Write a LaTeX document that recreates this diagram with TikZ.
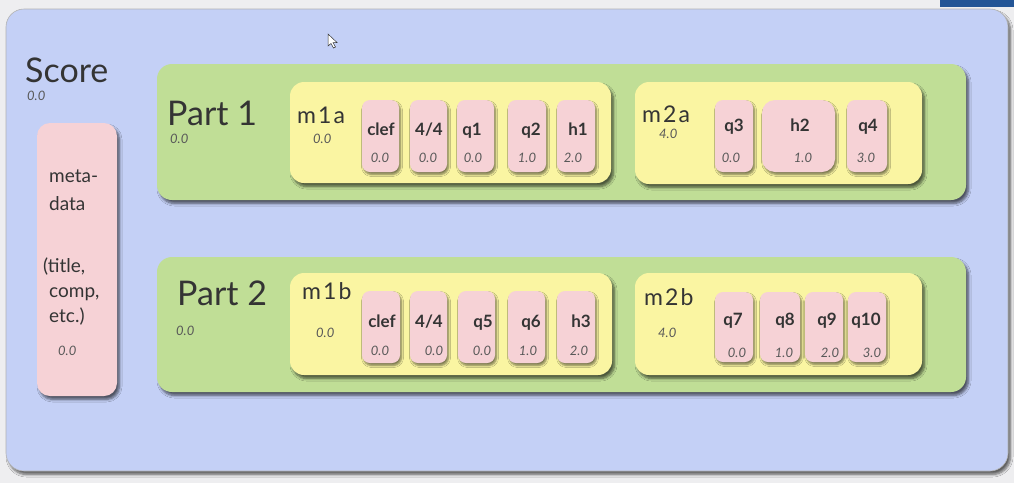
\documentclass[tikz,border=0pt]{standalone}
\usepackage{fontspec}
\setmainfont{Lato}
\newfontfamily\spacedlato[LetterSpace=9]{Lato}
\usetikzlibrary{fit,shadows.blur}
\definecolor{pagebg}{RGB}{238,238,240}
\definecolor{bluebg}{RGB}{196,208,246}
\definecolor{greenbg}{RGB}{192,222,150}
\definecolor{yellowbg}{RGB}{250,245,162}
\definecolor{pinkbg}{RGB}{246,210,214}
\definecolor{txt}{RGB}{52,52,52}
\definecolor{valtxt}{RGB}{88,88,88}
\definecolor{patch}{RGB}{35,85,150}
\tikzset{
  bigshad/.style={blur shadow={shadow xshift=2.5pt, shadow yshift=-3.5pt, shadow blur steps=6, shadow blur radius=2.5pt, shadow opacity=60}},
  smallshad/.style={blur shadow={shadow xshift=1.5pt, shadow yshift=-2.5pt, shadow blur steps=5, shadow blur radius=2pt, shadow opacity=50}},
  scorebox/.style={fill=bluebg, draw=black!30, line width=0.6pt, rounded corners=18pt, inner sep=0pt, bigshad},
  partbox/.style={fill=greenbg, rounded corners=15pt, inner sep=0pt, bigshad},
  measbox/.style={fill=yellowbg, rounded corners=14pt, inner sep=0pt, bigshad},
  evbox/.style={fill=pinkbg, rounded corners=8pt, inner sep=0pt, smallshad},
  metabox/.style={fill=pinkbg, rounded corners=13pt, inner sep=0pt, bigshad},
  bigtitle/.style={font=\fontsize{34}{34}\selectfont, text=txt, anchor=base west, inner sep=0pt},
  mtitle/.style={font=\spacedlato\fontsize{23}{23}\selectfont, text=txt, anchor=base west, inner sep=0pt},
  evname/.style={font=\fontsize{17}{17}\selectfont\bfseries, text=txt, anchor=base, inner sep=0pt},
  metatxt/.style={font=\fontsize{19}{19}\selectfont, text=txt, anchor=base west, inner sep=0pt},
  val/.style={font=\fontsize{13}{13}\selectfont\itshape, text=valtxt, anchor=base west, inner sep=0pt},
  cval/.style={font=\fontsize{13}{13}\selectfont\itshape, text=valtxt, anchor=base, inner sep=0pt},
}
\begin{document}
\begin{tikzpicture}[x=1pt,y=-1pt]
\useasboundingbox (0,0) rectangle (1014,483);
\fill[pagebg] (0,0) rectangle (1014,483);
\fill[patch] (940,0) rectangle (1014,7);
% Score
\node[scorebox, fit={(6,9) (1008,471)}] (score) {};
\node[bigtitle] (scoret) at (25,82) {Score};
\node[val] (scorev) at (27,100) {0.0};
% cursor
\filldraw[fill=white, draw=black!80, line width=0.5pt] (328,34) -- (328,46) -- (331,43.5) -- (333.5,48) -- (335.5,47) -- (333,42.5) -- (337,42.5) -- cycle;
% metadata
\node[metabox, fit={(37,123) (117,396)}] (meta) {};
\node[metatxt] (mt1) at (49,182) {meta-};
\node[metatxt] (mt2) at (49,210) {data};
\node[metatxt] (mt3) at (43,272) {(title,};
\node[metatxt] (mt4) at (49,297) {comp,};
\node[metatxt] (mt5) at (49,322) {etc.)};
\node[val] (mtv) at (58,355) {0.0};
% Part 1
\node[partbox, fit={(157,64) (966,200)}] (part1) {};
\node[bigtitle] (p1t) at (167,125) {Part 1};
\node[val] (p1v) at (170,143) {0.0};
% m1a
\node[measbox, fit={(290,82) (611,183)}] (m1a) {};
\node[mtitle] (m1at) at (297,123) {m1a};
\node[val] (m1av) at (313,143) {0.0};
\node[evbox, fit={(362,100) (399,172)}] (e1) {};
\node[evbox, fit={(410,100) (447,172)}] (e2) {};
\node[evbox, fit={(457,100) (494,172)}] (e3) {};
\node[evbox, fit={(508,100) (546,172)}] (e4) {};
\node[evbox, fit={(557,100) (595,172)}] (e5) {};
\node[evname] (e1n) at (381,135) {clef};
\node[evname] (e2n) at (429,135) {4/4};
\node[evname] (e3n) at (472,135) {q1};
\node[evname] (e4n) at (531,135) {q2};
\node[evname] (e5n) at (578,135) {h1};
\node[cval] (e1v) at (380,162) {0.0};
\node[cval] (e2v) at (428,162) {0.0};
\node[cval] (e3v) at (473,162) {0.0};
\node[cval] (e4v) at (527,162) {1.0};
\node[cval] (e5v) at (573,162) {2.0};
% m2a
\node[measbox, fit={(635,82) (922,184)}] (m2a) {};
\node[mtitle] (m2at) at (642,122) {m2a};
\node[val] (m2av) at (659,138) {4.0};
\node[evbox, fit={(715,100) (753,172)}] (e6) {};
\node[evbox, fit={(762,100) (835,172)}, rounded corners=13pt] (e7) {};
\node[evbox, fit={(847,100) (887,172)}] (e8) {};
\node[evname] (e6n) at (734,131) {q3};
\node[evname] (e7n) at (800,131) {h2};
\node[evname] (e8n) at (868,131) {q4};
\node[cval] (e6v) at (731,162) {0.0};
\node[cval] (e7v) at (803,162) {1.0};
\node[cval] (e8v) at (866,162) {3.0};
% Part 2
\node[partbox, fit={(157,257) (966,392)}] (part2) {};
\node[bigtitle] (p2t) at (177,305) {Part 2};
\node[val] (p2v) at (176,335) {0.0};
% m1b
\node[measbox, fit={(290,273) (612,375)}] (m1b) {};
\node[mtitle] (m1bt) at (302,299) {m1b};
\node[val] (m1bv) at (316,337) {0.0};
\node[evbox, fit={(362,291) (400,363)}] (f1) {};
\node[evbox, fit={(410,291) (447,363)}] (f2) {};
\node[evbox, fit={(458,291) (495,363)}] (f3) {};
\node[evbox, fit={(508,291) (545,363)}] (f4) {};
\node[evbox, fit={(557,291) (595,363)}] (f5) {};
\node[evname] (f1n) at (382,327) {clef};
\node[evname] (f2n) at (429,327) {4/4};
\node[evname] (f3n) at (483,327) {q5};
\node[evname] (f4n) at (531,327) {q6};
\node[evname] (f5n) at (581,327) {h3};
\node[cval] (f1v) at (380,355) {0.0};
\node[cval] (f2v) at (434,355) {0.0};
\node[cval] (f3v) at (482,355) {0.0};
\node[cval] (f4v) at (528,355) {1.0};
\node[cval] (f5v) at (579,355) {2.0};
% m2b
\node[measbox, fit={(635,273) (922,375)}] (m2b) {};
\node[mtitle] (m2bt) at (644,305) {m2b};
\node[val] (m2bv) at (658,337) {4.0};
\node[evbox, fit={(715,292) (753,362)}] (g1) {};
\node[evbox, fit={(760,292) (800,362)}] (g2) {};
\node[evbox, fit={(805,292) (843,362)}] (g3) {};
\node[evbox, fit={(848,292) (886,362)}] (g4) {};
\node[evname] (g1n) at (733,325) {q7};
\node[evname] (g2n) at (785,325) {q8};
\node[evname] (g3n) at (827,325) {q9};
\node[evname] (g4n) at (866,325) {q10};
\node[cval] (g1v) at (737,357) {0.0};
\node[cval] (g2v) at (784,357) {1.0};
\node[cval] (g3v) at (830,357) {2.0};
\node[cval] (g4v) at (872,357) {3.0};
\end{tikzpicture}
\end{document}
